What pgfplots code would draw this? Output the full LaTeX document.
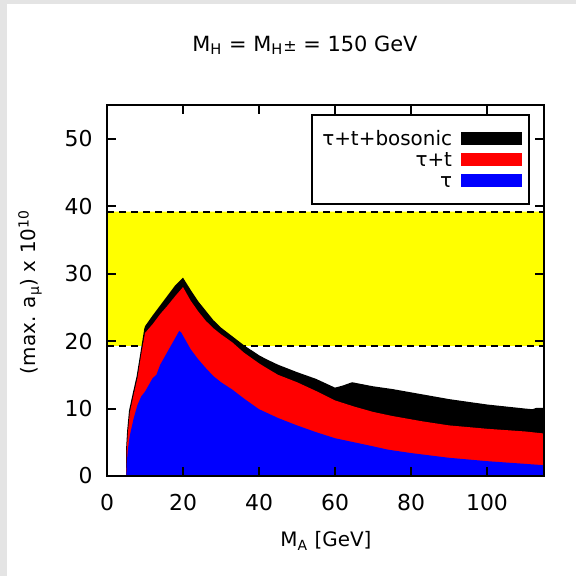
\documentclass[border=0pt]{standalone}
\usepackage{fontspec}
\setmainfont{DejaVu Sans}
\usepackage{pgfplots}
\pgfplotsset{compat=1.18}
\definecolor{framegray}{HTML}{E4E4E4}
\definecolor{bandyellow}{HTML}{FFFF00}
\definecolor{taured}{HTML}{FF0000}
\definecolor{taublue}{HTML}{0000FF}
\begin{document}
\fontsize{10}{12}\selectfont
\begin{tikzpicture}[x=0.5bp,y=0.5bp]
\useasboundingbox (0,0) rectangle (576,576);
\fill[framegray] (0,0) rectangle (576,576);
\fill[white] (7,0) rectangle (576,572);
\node[font=\fontsize{10.5}{12}\selectfont] at (305,531) {M\textsubscript{H} = M\textsubscript{H}{\fontsize{8}{8}\selectfont ±} = 150 GeV};
\begin{axis}[
  at={(53.5bp,50bp)}, anchor=south west,
  scale only axis, width=218.5bp, height=185.5bp,
  xmin=0, xmax=115, ymin=0, ymax=55,
  xtick={0,20,...,100}, ytick={0,10,...,50},
  minor tick num=0,
  tick align=inside, major tick length=4.5bp,
  axis line style={line width=1bp},
  tick style={line width=1bp, black},
  axis on top,
  /pgf/number format/assume math mode=true,
  tick label style={font=\fontsize{11}{13}\selectfont},
  xticklabel style={anchor=center, yshift=-13.5bp},
  yticklabel style={anchor=east, inner sep=0pt, xshift=-7bp},
  xlabel={M\textsubscript{A} [GeV]},
  ylabel={(max. a\textsubscript{μ}) x 10\textsuperscript{10}},
  every axis x label/.style={at={(axis description cs:0.501,-0.175)}, anchor=center},
  every axis y label/.style={at={(axis description cs:-0.176,0.496)}, anchor=center, rotate=90},
  legend style={at={(axis description cs:0.968,0.976)}, anchor=north east,
    draw=black, line width=1bp, inner xsep=3.5bp, inner ysep=6.5bp,
    row sep=0pt, column sep=3bp,
    nodes={inner sep=1.5bp, text height=7.5bp, text depth=0pt}},
  legend plot pos=right,
  legend cell align=right,
  legend image code/.code={\fill[#1] (0bp,-3.25bp) rectangle (30.5bp,3.25bp);},
]
% experimental band
\addplot[fill=bandyellow, draw=none, forget plot]
  coordinates {(0,19.3) (115,19.3) (115,39.2) (0,39.2) (0,19.3)};
\addplot[black, line width=1bp, dash pattern=on 3.5bp off 2.5bp, forget plot]
  coordinates {(0,19.3) (115,19.3)};
\addplot[black, line width=1bp, dash pattern=on 3.5bp off 2.5bp, forget plot]
  coordinates {(0,39.2) (115,39.2)};
% tau + t + bosonic
\addplot[fill=black, draw=none] coordinates {
  (5.0,0) (5.05,4.3) (5.3,6.7) (5.8,9.7) (6.8,12.3) (7.8,14.8) (8.8,18.3)
  (9.8,21.8) (10,22.2)
  (12,23.8) (14,25.3) (16,26.8) (18,28.3) (20,29.4) (22,27.6) (24,25.9)
  (26,24.5) (28,23.1) (30,22) (33,20.7) (36,19.4) (40,17.9) (42,17.3)
  (45,16.5) (50,15.4) (55,14.4) (60,13.1) (62,13.4) (64.5,13.9) (70,13.3)
  (75,12.9) (83,12.1) (90,11.4) (100,10.6) (105,10.3) (110,10.0) (112,9.9)
  (113,10.1) (115,10.1)} \closedcycle;
\addlegendentry{τ+t+bosonic}
% tau + t
\addplot[fill=taured, draw=none] coordinates {
  (5.1,0) (5.2,4) (5.5,6.4) (6,9.4) (7,12) (8,14.5) (9,18) (10,21.2)
  (12,22.5) (14,24) (16,25.3) (18,26.7) (20,28) (22,26) (24,24.4) (26,23)
  (28,21.9) (30,21) (33,19.8) (36,18.3) (40,16.7) (42,16) (45,15) (50,13.9)
  (55,12.6) (60,11.2) (65,10.3) (70,9.5) (75,8.9) (83,8.1) (90,7.5)
  (100,7) (110,6.6) (115,6.3)} \closedcycle;
\addlegendentry{τ+t}
% tau
\addplot[fill=taublue, draw=none] coordinates {
  (5.1,0) (5.2,2) (5.5,4) (6,6) (7,8.5) (8,10.5) (9,11.8) (10,12.5)
  (11,13.5) (12,14.5) (13,15) (14,16.5) (15,17.5) (16,18.5) (17,19.5)
  (18,20.5) (19,21.5) (19.5,21.3) (20,20.8) (21,19.8) (22,18.8) (24,17.3)
  (26,16) (28,14.8) (30,13.9) (33,12.8) (36,11.5) (40,9.9) (45,8.6)
  (50,7.5) (55,6.5) (60,5.6) (65,5) (70,4.4) (74,3.9) (80,3.4) (90,2.7)
  (100,2.2) (110,1.8) (115,1.6)} \closedcycle;
\addlegendentry{τ}
\end{axis}
\end{tikzpicture}
\end{document}
